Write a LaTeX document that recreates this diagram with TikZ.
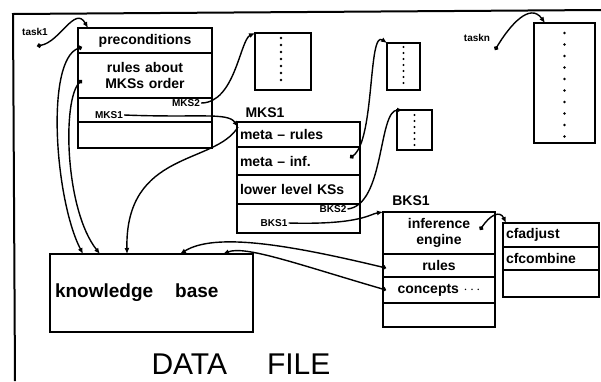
\documentclass[tikz,border=0pt]{standalone}
\usepackage{fontspec}
\setmainfont{Liberation Sans}
\usetikzlibrary{positioning,arrows.meta}

\tikzset{
  cell/.style={draw, line width=1.6pt, outer sep=0pt, inner sep=3pt, anchor=north west,
    text width=#1, align=center, font=\bfseries\fontsize{14}{16}\selectfont},
  list/.style={draw, line width=1.6pt, outer sep=0pt, anchor=north west},
  tag/.style={font=\bfseries\fontsize{10}{11}\selectfont, inner sep=1pt},
  ptr/.style={line width=1.4pt, {Circle[length=4.5pt]}-{Latex[length=6pt, width=5pt]}},
  link/.style={line width=1.4pt, -{Latex[length=6pt, width=5pt]}}
}

\begin{document}
\begin{tikzpicture}[x=1pt, y=1pt]
\useasboundingbox (0,0) rectangle (601,-381);

% frame
\draw [line width=2pt] (601,-10) -- (13,-14) -- (15,-381);

% task 1
\node [tag] (task1) at (35,-32) {task1};
\node [cell=128pt, minimum height=25pt] (pre) at (78,-28) {preconditions};
\node [cell=128pt, minimum height=45pt] (ord) at (pre.south west) {rules about\\MKSs order};
\node [cell=128pt, minimum height=24pt] (pslot) at (ord.south west) {};
\node [cell=128pt, minimum height=26pt] (pend) at (pslot.south west) {};
\node [tag] (mks2lbl) at (186,-103) {MKS2};
\node [tag] (mks1lbl) at (109,-115) {MKS1};

% lists of tasks
\node [list, minimum width=56pt, minimum height=57pt] (lst1) at (255,-33) {};
\foreach \k in {0,...,6} \fill (lst1.north) ++(-2,{-5-7*\k}) circle (1.4pt);
\node [list, minimum width=33pt, minimum height=47pt] (lsta) at (387,-43) {};
\foreach \k in {0,...,6} \fill (lsta.north) ++(0,{-4-6*\k}) circle (1.2pt);
\node [list, minimum width=35pt, minimum height=40pt] (lstb) at (397,-110) {};
\foreach \k in {0,...,5} \fill (lstb.north) ++(0,{-5-6*\k}) circle (1.2pt);

% task n
\node [tag] (taskn) at (477,-38) {taskn};
\node [list, minimum width=61pt, minimum height=120pt] (lstn) at (534,-23) {};
\foreach \k in {0,...,9} \fill (lstn.north) ++(0,{-10-11.5*\k}) circle (1.4pt);

% MKS1
\node [font=\bfseries\fontsize{14}{16}\selectfont] (mkst) at (265,-113) {MKS1};
\node [cell=117pt, align=left, minimum height=25pt] (mr) at (237,-122) {meta -- rules};
\node [cell=117pt, align=left, minimum height=28pt] (mi) at (mr.south west) {meta -- inf.};
\node [cell=117pt, align=left, minimum height=29pt] (ll) at (mi.south west) {lower level KSs};
\node [cell=117pt, minimum height=29pt] (mslot) at (ll.south west) {};
\node [tag] (bks2lbl) at (333,-209) {BKS2};
\node [tag] (bks1lbl) at (274,-223) {BKS1};

% BKS1
\node [font=\bfseries\fontsize{14}{16}\selectfont] (bkst) at (411,-201) {BKS1};
\node [cell=106pt, minimum height=42pt] (ie) at (383,-212) {inference\\engine};
\node [cell=106pt, minimum height=23pt] (ru) at (ie.south west) {rules};
\node [cell=106pt, minimum height=26pt] (co) at (ru.south west) {concepts $\cdots$};
\node [cell=106pt, minimum height=24pt] (bend) at (co.south west) {};

% functions
\node [cell=90pt, align=left, minimum height=24pt] (cfa) at (503,-223) {cfadjust};
\node [cell=90pt, align=left, minimum height=23pt] (cfc) at (cfa.south west) {cfcombine};
\node [cell=90pt, minimum height=27pt] (cfe) at (cfc.south west) {};

% knowledge base
\node [draw, line width=1.6pt, outer sep=0pt, anchor=north west, inner sep=5pt,
  text width=193pt, align=left, minimum height=78pt, font=\bfseries\fontsize{19}{22}\selectfont]
  (kb) at (50,-254) {knowledge\hspace{22pt}base};
\node [font=\fontsize{30}{32}\selectfont] (file) at (241,-364) {DATA\hspace{40pt}FILE};

% pointer origins
\coordinate (t1) at (37,-46);
\coordinate (tn) at (495,-50);
\coordinate (p1) at (82,-47);
\coordinate (p2) at (82,-80);
\coordinate (mksin) at (238,-127);
\coordinate (miorg) at (350,-158);
\coordinate (ieorg) at (480,-230);
\coordinate (ruorg) at (386,-268);
\coordinate (coorg) at (386,-290);

% arrows
\draw [ptr] (t1) .. controls (60,-42) and (75,-5) .. ([xshift=10pt]pre.north west);
\draw [ptr] (tn) .. controls (510,-25) and (530,-2) .. ([xshift=11pt]lstn.north west);
\draw [ptr] (p1) .. controls (45,-60) and (55,-200) .. ([xshift=33pt]kb.north west);
\draw [ptr] (p2) .. controls (62,-100) and (65,-210) .. ([xshift=50pt]kb.north west);
\draw [link] (mks2lbl.east) .. controls (235,-103) and (240,-40) .. (lst1.north west);
\draw [link] (mks1lbl.east) .. controls (200,-118) and (228,-112) .. (mksin);
\draw [link] (mksin) .. controls (215,-165) and (125,-150) .. ([xshift=77pt]kb.north west);
\draw [ptr] (miorg) .. controls (375,-140) and (368,-30) .. (lsta.north west);
\draw [link] (bks2lbl.east) .. controls (385,-205) and (378,-110) .. ([xshift=6pt]lstb.north west);
\draw [link] (bks1lbl.east) .. controls (360,-225) and (370,-214) .. (ie.north west);
\draw [ptr] (ieorg) .. controls (490,-215) and (500,-210) .. ([xshift=3pt]cfa.north west);
\draw [ptr] (ruorg) .. controls (290,-245) and (215,-232) .. ([xshift=130pt]kb.north west);
\draw [ptr] (coorg) .. controls (300,-265) and (245,-245) .. ([xshift=173pt]kb.north west);

\end{tikzpicture}
\end{document}
